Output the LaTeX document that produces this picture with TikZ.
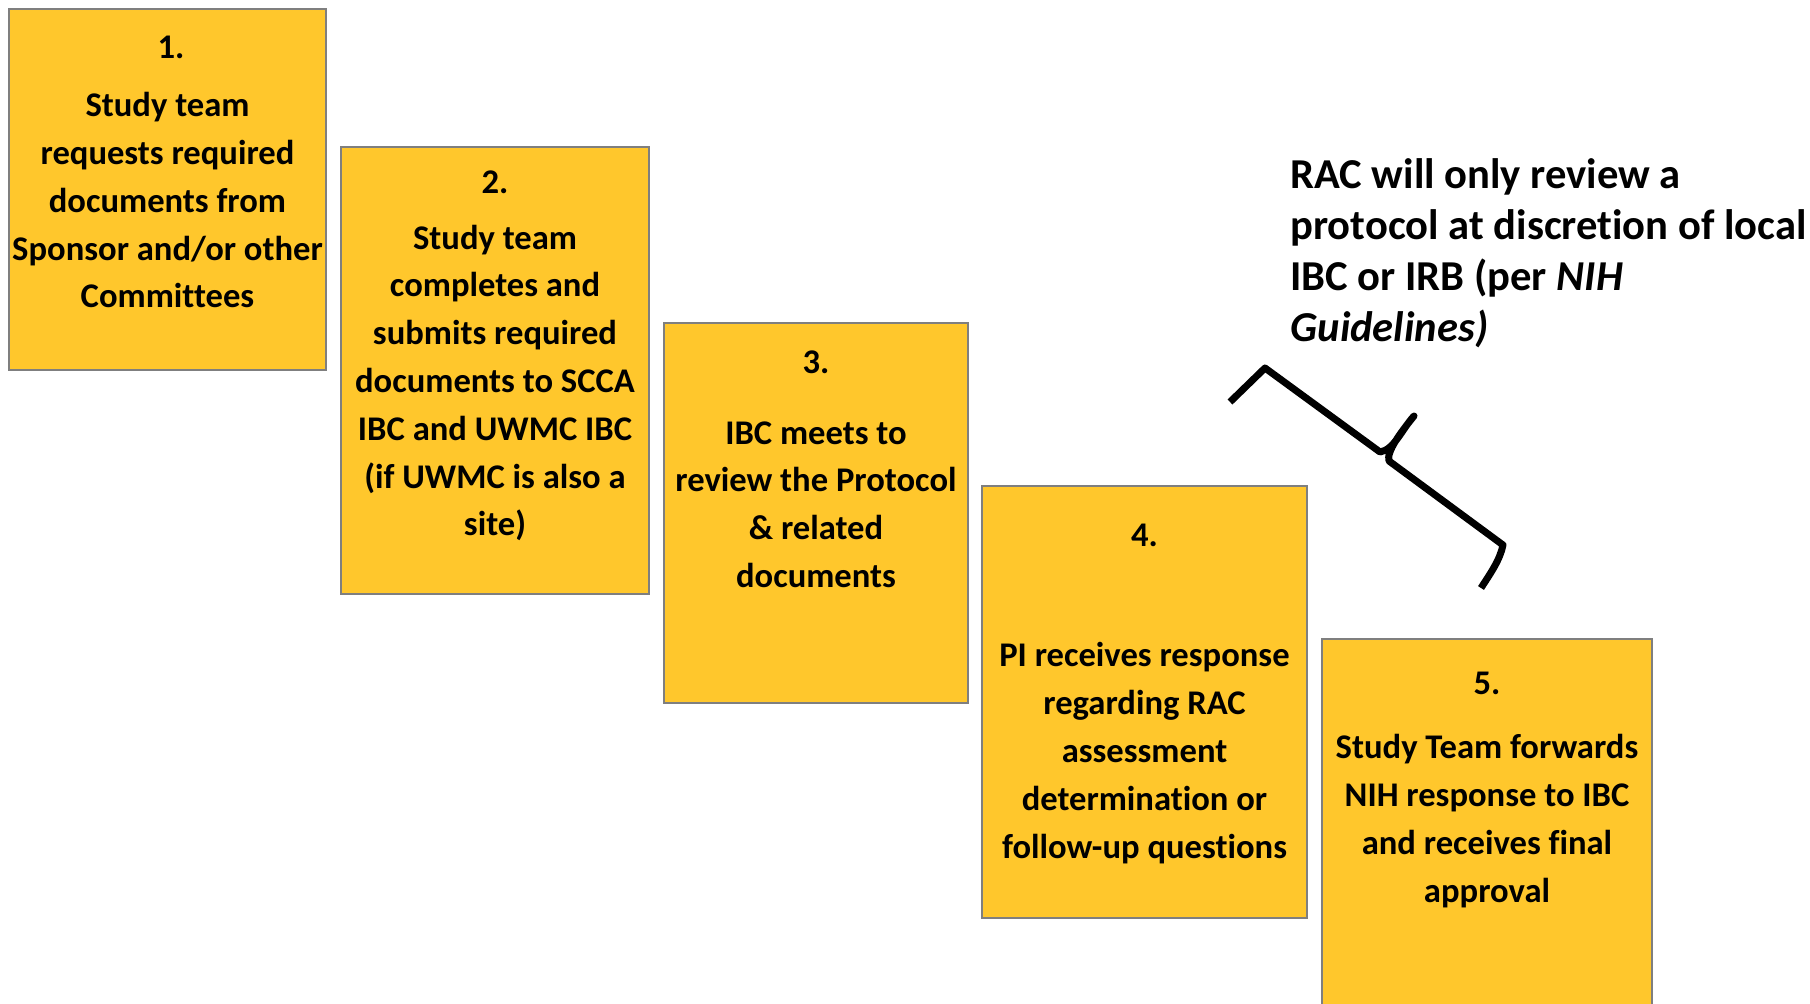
\documentclass[tikz,border=0pt]{standalone}
\usepackage{fontspec}
\setmainfont{Carlito}[Ligatures=NoCommon]
\definecolor{boxfill}{HTML}{FFC72C}
\definecolor{boxline}{HTML}{7F7F7F}
\begin{document}
\begin{tikzpicture}[x=0.5pt,y=-0.5pt,
  stepbox/.style={draw=boxline,line width=0.7pt,fill=boxfill,anchor=north west,inner sep=0pt,outer sep=0pt},
  num/.style={font=\bfseries\fontsize{17.3}{24}\selectfont,anchor=base,inner sep=0pt},
  body/.style={font=\bfseries\fontsize{17.3}{23.9}\selectfont,align=center,anchor=base,inner sep=0pt},
  note/.style={font=\bfseries\fontsize{21.3}{25.5}\selectfont,align=left,anchor=base west,inner sep=0pt},
  brace/.style={line width=3.5pt,line join=round,line cap=butt}]
\clip (0,0) rectangle (1810,1004);
\fill[white] (0,0) rectangle (1810,1004);
% boxes
\node[stepbox,minimum width=158.5pt,minimum height=180.5pt] (b1) at (9,9) {};
\node[stepbox,minimum width=154pt,minimum height=223.5pt] (b2) at (341,147) {};
\node[stepbox,minimum width=152pt,minimum height=190pt] (b3) at (664,323) {};
\node[stepbox,minimum width=162.5pt,minimum height=216pt] (b4) at (982,486) {};
\node[stepbox,minimum width=165pt,minimum height=205pt] (b5) at (1322,639) {};
% numbers
\node[num] (n1) at (171,59) {1.};
\node[num] (n2) at (495,194) {2.};
\node[num] (n3) at (816,374) {3.};
\node[num] (n4) at (1144.5,547) {4.};
\node[num] (n5) at (1487,695) {5.};
% texts (anchored at the baseline of their last line)
\node[body] (t1) at (167.5,308) {Study team\\requests required\\documents from\\Sponsor and/or other\\Committees};
\node[body] (t2) at (495,536) {Study team\\completes and\\submits required\\documents to SCCA\\IBC and UWMC IBC\\(if UWMC is also a\\site)};
\node[body] (t3) at (816,587.5) {IBC meets to\\review the Protocol\\\& related\\documents};
\node[body] (t4) at (1144.5,858) {PI receives response\\regarding RAC\\assessment\\determination or\\follow-up questions};
\node[body] (t5) at (1487,902) {Study Team forwards\\NIH response to IBC\\and receives final\\approval};
% note
\node[note] (note) at (1290,341.5) {RAC will only review a\\protocol at discretion of local\\IBC or IRB (per \textit{NIH}\\\textit{Guidelines)}};
% brace
\coordinate (ba) at (1230,402);
\coordinate (bb) at (1265,368);
\coordinate (bc) at (1380,452);
\coordinate (bt) at (1414,416);
\coordinate (bd) at (1389,461);
\coordinate (be) at (1503,545);
\coordinate (bf) at (1481,588);
\draw[brace] (ba) -- (bb) -- (bc) .. controls (1394,450) and (1402,429) .. (bt)
  .. controls (1401,432) and (1386,452) .. (bd) -- (be) .. controls (1500,560) and (1490,574) .. (bf);
\end{tikzpicture}
\end{document}
